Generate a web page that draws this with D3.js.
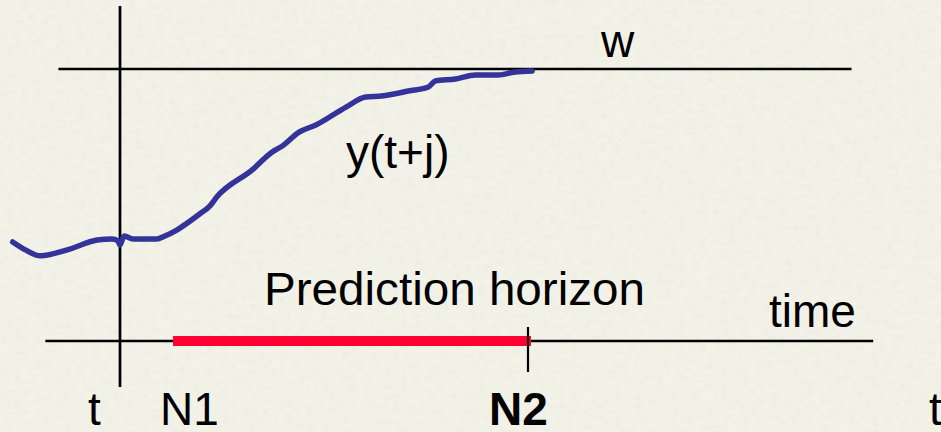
<!DOCTYPE html>
<html>
<head>
<meta charset="utf-8">
<script src="https://cdn.jsdelivr.net/npm/d3@7"></script>
<style>
  html, body { margin: 0; padding: 0; background: #f1f0e5; overflow: hidden; }
  svg text { font-family: "Liberation Sans", Arial, sans-serif; fill: #000; }
</style>
</head>
<body>
<div id="chart"></div>
<script>
// --- DATA ---
// time in steps (0 = now, t), output in % of setpoint w
const N1 = 1.3;
const N2 = 10;
const setpoint = 100;
const outputTime = [-2.63, -2.32, -1.95, -1.29, -0.56, -0.2, -0.05, 0, 0.1, 0.32, 0.9, 1.1, 1.39,
                    1.95, 2.2, 2.37, 3.24, 3.73, 3.98, 4.39, 4.8, 5.54, 6.02, 6.41, 7.07, 7.56,
                    7.73, 8.22, 8.71, 9.27, 9.68, 10.1];
const outputValue = [36.4, 33.5, 31.3, 33.5, 37.1, 37.5, 36.8, 35.3, 38.6, 37.5, 37.5, 38.6, 40.8,
                     46.7, 49.6, 52.9, 62.9, 69.5, 71.7, 76.8, 79.4, 86.0, 89.7, 90.1, 91.9, 93.4,
                     95.6, 96.3, 97.8, 97.8, 98.9, 99.3];
const axisTimeExtent = [-1.83, 18.46];
const setpointExtent = [-1.51, 17.93];
const verticalExtent = [-16.9, 123.2];

const width = 941, height = 432;

const svg = d3.select("#chart").append("svg")
    .attr("width", width).attr("height", height);

// --- background texture ---
const defs = svg.append("defs");
const filter = defs.append("filter").attr("id", "tex")
    .attr("x", 0).attr("y", 0).attr("width", "100%").attr("height", "100%");
filter.append("feTurbulence")
    .attr("type", "fractalNoise").attr("baseFrequency", "0.14 0.2")
    .attr("numOctaves", 2).attr("seed", 4);
filter.append("feColorMatrix").attr("type", "matrix")
    .attr("values", "0 0 0 0 0.84  0 0 0 0 0.83  0 0 0 0 0.74  2.2 0 0 0 -0.95");

svg.append("rect").attr("width", width).attr("height", height).attr("fill", "#f3f2e8");
svg.append("rect").attr("width", width).attr("height", height)
    .attr("filter", "url(#tex)").attr("opacity", 0.75);

// --- SCALES ---
const x = d3.scaleLinear().domain([0, N2]).range([120, 528]);
const y = d3.scaleLinear().domain([0, setpoint]).range([341, 69]);

const g = svg.append("g");

// setpoint line w
g.append("line")
    .attr("x1", x(setpointExtent[0])).attr("x2", x(setpointExtent[1]))
    .attr("y1", y(setpoint)).attr("y2", y(setpoint))
    .attr("stroke", "#000").attr("stroke-width", 2.4);

// time axis
g.append("line")
    .attr("x1", x(axisTimeExtent[0])).attr("x2", x(axisTimeExtent[1]))
    .attr("y1", y(0)).attr("y2", y(0))
    .attr("stroke", "#000").attr("stroke-width", 2.4);

// vertical line at t
g.append("line")
    .attr("x1", x(0)).attr("x2", x(0))
    .attr("y1", y(verticalExtent[1])).attr("y2", y(verticalExtent[0]))
    .attr("stroke", "#000").attr("stroke-width", 2.7);

// prediction horizon bar
g.append("line")
    .attr("x1", x(N1)).attr("x2", x(N2) + 3)
    .attr("y1", y(0)).attr("y2", y(0))
    .attr("stroke", "#ff0033").attr("stroke-width", 10);

// tick at N2
g.append("line")
    .attr("x1", x(N2)).attr("x2", x(N2))
    .attr("y1", y(0) - 14).attr("y2", y(0) + 31)
    .attr("stroke", "#000").attr("stroke-width", 2.2);

// output trajectory
const pts = outputTime.map((t, i) => [t, outputValue[i]]);
const line = d3.line().x(d => x(d[0])).y(d => y(d[1])).curve(d3.curveMonotoneX);
g.append("path").datum(pts)
    .attr("d", line)
    .attr("fill", "none")
    .attr("stroke", "#333399")
    .attr("stroke-width", 5.5)
    .attr("stroke-linejoin", "round")
    .attr("stroke-linecap", "round");

// --- LABELS ---
const fs = 46;
function label(txt, px, py, opts = {}) {
    const t = g.append("text").attr("x", px).attr("y", py)
        .attr("font-size", fs).text(txt);
    if (opts.bold) t.attr("font-weight", "bold");
    if (opts.len) t.attr("textLength", opts.len).attr("lengthAdjust", "spacingAndGlyphs");
    return t;
}
label("w", 601, 57);
label("y(t+j)", 346, 168);
label("Prediction horizon", 264, 305, { len: 381 });
label("time", 769, 327);
label("t", 88, 425);
label("N1", 160, 425);
label("N2", 489, 425, { bold: true });
label("t", 929, 425);
</script>
</body>
</html>
